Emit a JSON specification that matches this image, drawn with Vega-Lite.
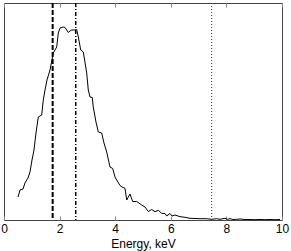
{
  "$schema": "https://vega.github.io/schema/vega-lite/v6.json",
  "width": 278,
  "height": 217,
  "autosize": "none",
  "padding": {"left": 4, "top": 3, "right": 9, "bottom": 31},
  "config": {
    "view": {"stroke": "#444", "strokeWidth": 1},
    "font": "Liberation Sans",
    "axis": {"grid": false}
  },
  "datasets": {
    "spectrum": [
      {"energy": 0.504, "counts": 23}, {"energy": 0.576, "counts": 30}, {"energy": 0.683, "counts": 31},
      {"energy": 0.755, "counts": 37}, {"energy": 0.863, "counts": 42}, {"energy": 0.935, "counts": 48},
      {"energy": 1.007, "counts": 60}, {"energy": 1.079, "counts": 70}, {"energy": 1.151, "counts": 87},
      {"energy": 1.234, "counts": 103}, {"energy": 1.356, "counts": 105}, {"energy": 1.414, "counts": 120},
      {"energy": 1.475, "counts": 130}, {"energy": 1.547, "counts": 140}, {"energy": 1.655, "counts": 150},
      {"energy": 1.773, "counts": 167}, {"energy": 1.896, "counts": 173}, {"energy": 1.953, "counts": 187},
      {"energy": 2.014, "counts": 192}, {"energy": 2.133, "counts": 193}, {"energy": 2.194, "counts": 192.5},
      {"energy": 2.255, "counts": 190}, {"energy": 2.313, "counts": 187.5}, {"energy": 2.374, "counts": 189},
      {"energy": 2.435, "counts": 190}, {"energy": 2.554, "counts": 190}, {"energy": 2.615, "counts": 190.5},
      {"energy": 2.673, "counts": 183}, {"energy": 2.759, "counts": 170}, {"energy": 2.853, "counts": 168},
      {"energy": 2.975, "counts": 147}, {"energy": 3.032, "counts": 130}, {"energy": 3.094, "counts": 123},
      {"energy": 3.176, "counts": 122.5}, {"energy": 3.212, "counts": 113}, {"energy": 3.309, "counts": 98},
      {"energy": 3.392, "counts": 88}, {"energy": 3.514, "counts": 87}, {"energy": 3.597, "counts": 77},
      {"energy": 3.694, "counts": 68}, {"energy": 3.813, "counts": 53}, {"energy": 3.91, "counts": 51.5},
      {"energy": 3.993, "counts": 43}, {"energy": 4.054, "counts": 40}, {"energy": 4.173, "counts": 34.5},
      {"energy": 4.245, "counts": 33}, {"energy": 4.353, "counts": 31.7}, {"energy": 4.414, "counts": 20},
      {"energy": 4.532, "counts": 26}, {"energy": 4.629, "counts": 18.5}, {"energy": 4.773, "counts": 18.5},
      {"energy": 4.953, "counts": 15}, {"energy": 5.072, "counts": 13}, {"energy": 5.191, "counts": 8.5},
      {"energy": 5.313, "counts": 10.5}, {"energy": 5.432, "counts": 8.3}, {"energy": 5.55, "counts": 9.7},
      {"energy": 5.673, "counts": 6.7}, {"energy": 5.791, "counts": 6.5}, {"energy": 5.853, "counts": 4},
      {"energy": 5.971, "counts": 6.5}, {"energy": 6.043, "counts": 4}, {"energy": 6.151, "counts": 5},
      {"energy": 6.331, "counts": 3.3}, {"energy": 6.511, "counts": 2.7}, {"energy": 6.691, "counts": 1.7},
      {"energy": 6.871, "counts": 1.5}, {"energy": 7.05, "counts": 1.3}, {"energy": 7.291, "counts": 1.3},
      {"energy": 7.471, "counts": 0.7}, {"energy": 7.651, "counts": 1.3}, {"energy": 7.77, "counts": 0.7},
      {"energy": 7.95, "counts": 1.7}, {"energy": 8.032, "counts": 0.7}, {"energy": 8.129, "counts": 1.3},
      {"energy": 8.237, "counts": 0.5}, {"energy": 8.371, "counts": 0.7}, {"energy": 8.489, "counts": 1},
      {"energy": 8.669, "counts": 0.5}, {"energy": 8.849, "counts": 0.5}, {"energy": 9.03, "counts": 0.3},
      {"energy": 9.21, "counts": 0.5}, {"energy": 9.39, "counts": 0.3}, {"energy": 9.57, "counts": 0.5},
      {"energy": 9.75, "counts": 0.3}, {"energy": 9.93, "counts": 0.5}
    ],
    "markers": [
      {"energy": 1.75, "style": "dashed"},
      {"energy": 2.58, "style": "dashdot"},
      {"energy": 7.47, "style": "dotted"}
    ]
  },
  "layer": [
    {
      "data": {"name": "spectrum"},
      "mark": {"type": "line", "color": "black", "strokeWidth": 1},
      "encoding": {
        "x": {
          "field": "energy", "type": "quantitative",
          "scale": {"domain": [0, 10], "nice": false},
          "axis": {
            "orient": "bottom", "values": [0, 2, 4, 6, 8, 10],
            "tickSize": -4, "tickColor": "#888", "domain": false,
            "labelFontSize": 12, "labelColor": "black", "labelPadding": 7,
            "labelFlush": false,
            "title": "Energy, keV", "titleFontSize": 12, "titleFontWeight": "normal",
            "titleColor": "black", "titlePadding": 4
          }
        },
        "y": {
          "field": "counts", "type": "quantitative",
          "scale": {"domain": [0, 217]},
          "axis": null
        }
      }
    },
    {
      "data": {"name": "markers"},
      "transform": [{"filter": "datum.style === 'dashed'"}],
      "mark": {"type": "rule", "color": "black", "strokeWidth": 2, "strokeDash": [5, 2]},
      "encoding": {
        "x": {
          "field": "energy", "type": "quantitative",
          "axis": {
            "orient": "top", "values": [0, 2, 4, 6, 8, 10],
            "tickSize": -4, "tickColor": "#888", "domain": false,
            "labels": false, "title": null
          }
        }
      }
    },
    {
      "data": {"name": "markers"},
      "transform": [{"filter": "datum.style === 'dashdot'"}],
      "mark": {"type": "rule", "color": "black", "strokeWidth": 1.5, "strokeDash": [4, 2, 1, 2]},
      "encoding": {"x": {"field": "energy", "type": "quantitative", "axis": null}}
    },
    {
      "data": {"name": "markers"},
      "transform": [{"filter": "datum.style === 'dotted'"}],
      "mark": {"type": "rule", "color": "#333", "strokeWidth": 1, "strokeDash": [1, 2]},
      "encoding": {"x": {"field": "energy", "type": "quantitative", "axis": null}}
    }
  ],
  "resolve": {"axis": {"x": "independent"}}
}
